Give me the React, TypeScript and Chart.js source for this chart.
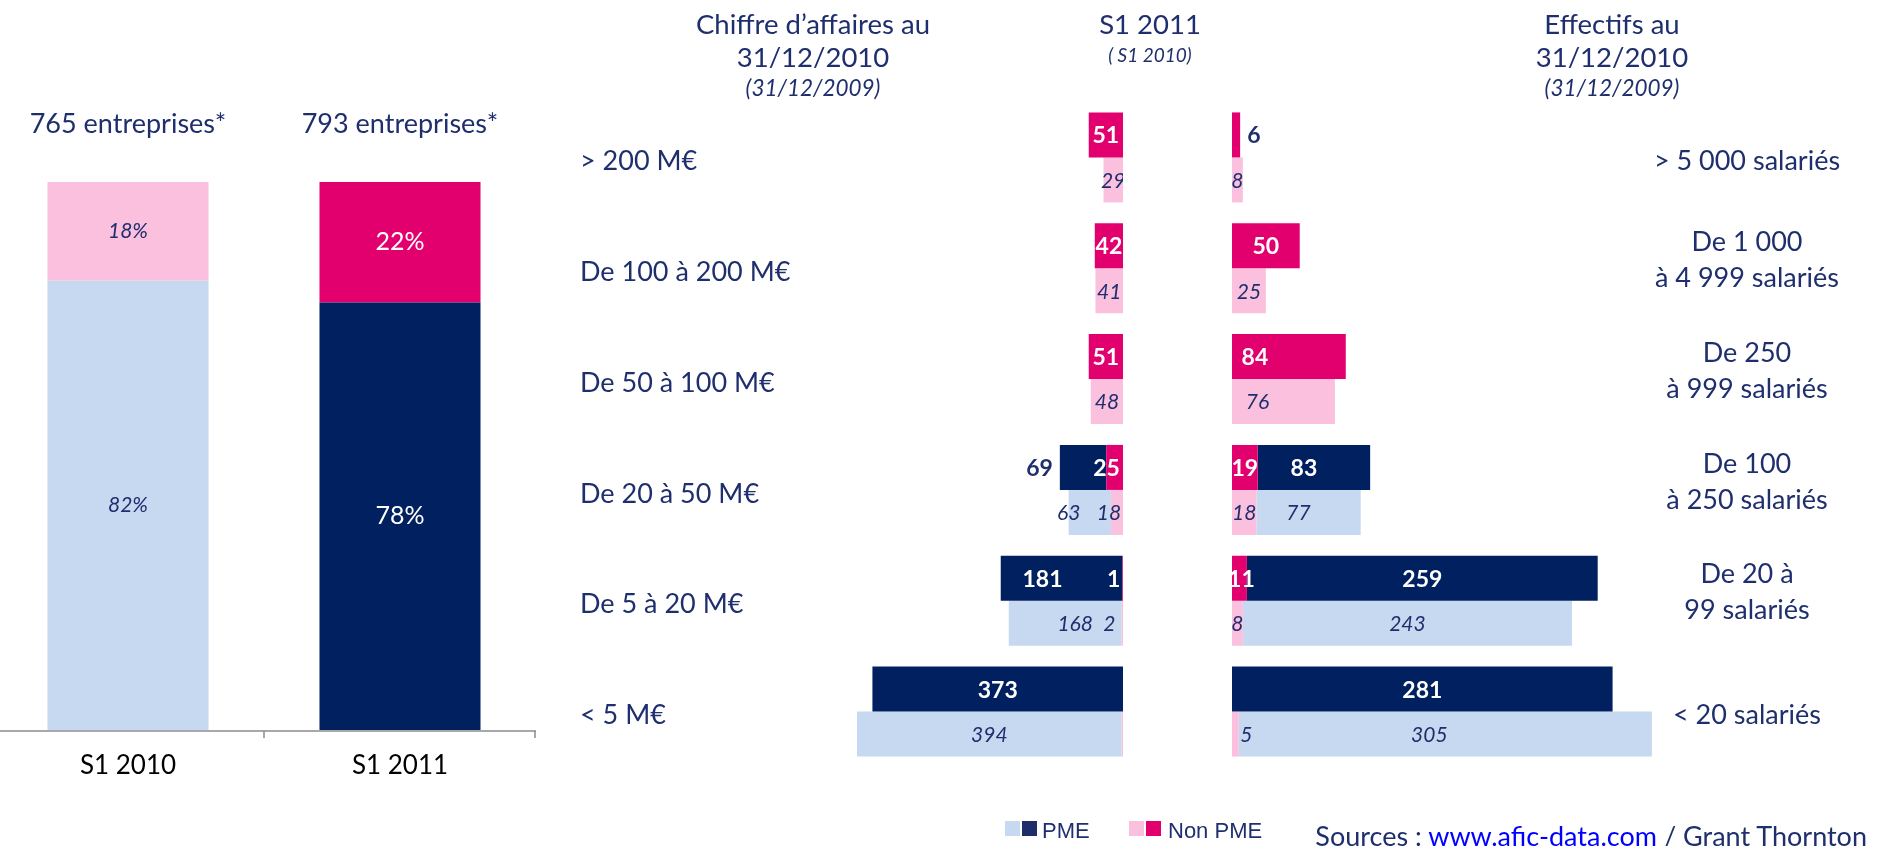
import React, { useEffect, useRef } from 'react';
import { Chart, registerables } from 'chart.js';

Chart.register(...registerables);

const TEXT = '#1F2F6E';
const DARK = '#002060';
const MAGENTA = '#E2006F';
const LIGHT_BLUE = '#C6D9F0';
const LIGHT_PINK = '#FBC0DE';
const FONT = 'Lato, "Open Sans", sans-serif';

// ---- Left chart: share of PME / Non PME ----
const periods = ['S1 2010', 'S1 2011'];
const companyCounts = [765, 793];
const pmeShare = [82, 78];
const nonPmeShare = [18, 22];

// ---- Middle-left: chiffre d'affaires ----
const caCategories = ['> 200 M€', 'De 100 à 200 M€', 'De 50 à 100 M€', 'De 20 à 50 M€', 'De 5 à 20 M€', '< 5 M€'];
const caNonPme2011 = [51, 42, 51, 25, 1, 0];
const caPme2011 = [0, 0, 0, 69, 181, 373];
const caNonPme2010 = [29, 41, 48, 18, 2, 2];
const caPme2010 = [0, 0, 0, 63, 168, 394];

// ---- Middle-right: effectifs ----
const effCategories = [
  ['> 5 000 salariés'],
  ['De 1 000', 'à 4 999 salariés'],
  ['De 250', 'à 999 salariés'],
  ['De 100', 'à 250 salariés'],
  ['De 20 à', '99 salariés'],
  ['< 20 salariés'],
];
const effNonPme2011 = [6, 50, 84, 19, 11, 0];
const effPme2011 = [0, 0, 0, 83, 259, 281];
const effNonPme2010 = [8, 25, 76, 18, 8, 5];
const effPme2010 = [0, 0, 0, 77, 243, 305];

// label placement tweaks (key: chart-datasetIndex-row)
const labelTweaks: Record<string, { dx?: number; outside?: boolean; hidden?: boolean }> = {
  'ca-0-3': { dx: -8 },
  'ca-0-4': { dx: -9 },
  'ca-1-3': { outside: true },
  'ca-1-4': { dx: -19 },
  'ca-2-3': { dx: -8 },
  'ca-2-4': { dx: -13 },
  'ca-2-5': { hidden: true },
  'ca-3-3': { dx: -21 },
  'ca-3-4': { dx: 10 },
  'eff-0-0': { outside: true },
  'eff-0-2': { dx: -34 },
  'eff-0-4': { dx: 2 },
  'eff-1-3': { dx: -10 },
  'eff-2-2': { dx: -26 },
  'eff-2-5': { dx: 11 },
  'eff-3-3': { dx: -10 },
  'eff-3-5': { dx: -16 },
};

function valueLabels(prefix: string, side: 'left' | 'right') {
  return {
    id: 'valueLabels',
    afterDatasetsDraw(chart: any) {
      const ctx = chart.ctx;
      ctx.save();
      ctx.textBaseline = 'middle';
      chart.data.datasets.forEach((ds: any, di: number) => {
        const meta = chart.getDatasetMeta(di);
        const is2011 = di < 2;
        meta.data.forEach((el: any, i: number) => {
          const v = ds.data[i] as number;
          if (!v) return;
          const tw = labelTweaks[`${prefix}-${di}-${i}`] || {};
          if (tw.hidden) return;
          const { x, base, y } = el.getProps(['x', 'base', 'y'], true);
          let tx = (x + base) / 2 + (tw.dx || 0);
          let align = 'center';
          let color = is2011 ? '#FFFFFF' : TEXT;
          if (tw.outside) {
            color = TEXT;
            if (side === 'left') {
              tx = Math.min(x, base) - 7;
              align = 'right';
            } else {
              tx = Math.max(x, base) + 7;
              align = 'left';
            }
          }
          ctx.font = is2011 ? `bold 23px ${FONT}` : `italic 21px ${FONT}`;
          ctx.fillStyle = color;
          ctx.textAlign = align;
          ctx.fillText(String(v), tx, y + 1);
        });
      });
      ctx.restore();
    },
  };
}

function categoryLabels(xPos: number, align: 'left' | 'center') {
  return {
    id: 'categoryLabels',
    afterDraw(chart: any) {
      const ctx = chart.ctx;
      const yScale = chart.scales.y;
      ctx.save();
      ctx.font = `27px ${FONT}`;
      ctx.fillStyle = TEXT;
      ctx.textAlign = align;
      ctx.textBaseline = 'middle';
      (chart.data.labels as any[]).forEach((lab, i) => {
        const cy = yScale.getPixelForValue(i);
        const lines = Array.isArray(lab) ? lab : [lab];
        if (lines.length === 1) {
          ctx.fillText(lines[0], xPos, cy + 4);
        } else {
          ctx.fillText(lines[0], xPos, cy - 26);
          ctx.fillText(lines[1], xPos, cy + 10);
        }
      });
      ctx.restore();
    },
  };
}

const shareDecor = {
  id: 'shareDecor',
  afterDatasetsDraw(chart: any) {
    const ctx = chart.ctx;
    const { left, right, top, bottom } = chart.chartArea;
    const xs = chart.scales.x;
    ctx.save();
    // axis line + tick marks between categories
    ctx.strokeStyle = '#8C8C8C';
    ctx.lineWidth = 1.5;
    ctx.beginPath();
    ctx.moveTo(left, bottom + 1);
    ctx.lineTo(right, bottom + 1);
    const n = periods.length;
    for (let k = 0; k <= n; k++) {
      let bx = left + ((right - left) * k) / n;
      if (k === n) bx -= 1;
      ctx.moveTo(bx, bottom + 1);
      ctx.lineTo(bx, bottom + 8);
    }
    ctx.stroke();
    ctx.textAlign = 'center';
    ctx.textBaseline = 'middle';
    periods.forEach((p, i) => {
      const cx = xs.getPixelForValue(i);
      ctx.font = `26px ${FONT}`;
      ctx.fillStyle = '#000000';
      ctx.fillText(p, cx, bottom + 36);
      ctx.font = `27px ${FONT}`;
      ctx.fillStyle = TEXT;
      ctx.fillText(`${companyCounts[i]} entreprises*`, cx, top - 58);
    });
    // segment labels
    chart.data.datasets.forEach((ds: any, di: number) => {
      const meta = chart.getDatasetMeta(di);
      meta.data.forEach((el: any, i: number) => {
        const { x, y, base } = el.getProps(['x', 'y', 'base'], true);
        const cy = (y + base) / 2;
        if (i === 0) {
          ctx.font = `italic 21px ${FONT}`;
          ctx.fillStyle = TEXT;
        } else {
          ctx.font = `25px ${FONT}`;
          ctx.fillStyle = '#FFFFFF';
        }
        ctx.fillText(`${ds.data[i]}%`, x, cy);
      });
    });
    ctx.restore();
  },
};

function Txt(props: { x: number; y: number; size: number; italic?: boolean; children: any }) {
  return (
    <div
      style={{
        position: 'absolute',
        left: props.x,
        top: props.y,
        transform: 'translate(-50%, -50%)',
        whiteSpace: 'nowrap',
        fontSize: props.size,
        lineHeight: 1.1,
        fontStyle: props.italic ? 'italic' : 'normal',
        color: TEXT,
        fontFamily: FONT,
      }}
    >
      {props.children}
    </div>
  );
}

export default function App() {
  const shareRef = useRef<HTMLCanvasElement>(null);
  const caRef = useRef<HTMLCanvasElement>(null);
  const effRef = useRef<HTMLCanvasElement>(null);

  useEffect(() => {
    const charts: Chart[] = [];
    charts.push(
      new Chart(shareRef.current!, {
        type: 'bar',
        data: {
          labels: periods,
          datasets: [
            { label: 'PME', data: pmeShare, backgroundColor: [LIGHT_BLUE, DARK] },
            { label: 'Non PME', data: nonPmeShare, backgroundColor: [LIGHT_PINK, MAGENTA] },
          ],
        },
        options: {
          animation: false,
          responsive: false,
          maintainAspectRatio: false,
          layout: { padding: { top: 182, bottom: 116, left: 0, right: 0 } },
          datasets: { bar: { categoryPercentage: 1, barPercentage: 0.592 } },
          scales: {
            x: { stacked: true, display: false },
            y: { stacked: true, display: false, min: 0, max: 100 },
          },
          plugins: { legend: { display: false }, tooltip: { enabled: false } },
        },
        plugins: [shareDecor],
      } as any)
    );

    const hbarOptions = (reverse: boolean, max: number, padding: any) => ({
      animation: false,
      responsive: false,
      maintainAspectRatio: false,
      indexAxis: 'y',
      layout: { padding },
      datasets: { bar: { categoryPercentage: 0.812, barPercentage: 1 } },
      scales: {
        x: { stacked: true, display: false, reverse, min: 0, max },
        y: { stacked: true, display: false },
      },
      plugins: { legend: { display: false }, tooltip: { enabled: false } },
    });

    charts.push(
      new Chart(caRef.current!, {
        type: 'bar',
        data: {
          labels: caCategories,
          datasets: [
            { label: 'Non PME S1 2011', data: caNonPme2011, backgroundColor: MAGENTA, stack: 's2011' },
            { label: 'PME S1 2011', data: caPme2011, backgroundColor: DARK, stack: 's2011' },
            { label: 'Non PME S1 2010', data: caNonPme2010, backgroundColor: LIGHT_PINK, stack: 's2010' },
            { label: 'PME S1 2010', data: caPme2010, backgroundColor: LIGHT_BLUE, stack: 's2010' },
          ],
        },
        options: hbarOptions(true, 585, { left: 170, right: 0, top: 102, bottom: 79 }),
        plugins: [valueLabels('ca', 'left'), categoryLabels(20, 'left')],
      } as any)
    );

    charts.push(
      new Chart(effRef.current!, {
        type: 'bar',
        data: {
          labels: effCategories,
          datasets: [
            { label: 'Non PME S1 2011', data: effNonPme2011, backgroundColor: MAGENTA, stack: 's2011' },
            { label: 'PME S1 2011', data: effPme2011, backgroundColor: DARK, stack: 's2011' },
            { label: 'Non PME S1 2010', data: effNonPme2010, backgroundColor: LIGHT_PINK, stack: 's2010' },
            { label: 'PME S1 2010', data: effPme2010, backgroundColor: LIGHT_BLUE, stack: 's2010' },
          ],
        },
        options: hbarOptions(false, 316, { left: 0, right: 220, top: 102, bottom: 79 }),
        plugins: [valueLabels('eff', 'right'), categoryLabels(515, 'center')],
      } as any)
    );

    if ((document as any).fonts && (document as any).fonts.ready) {
      (document as any).fonts.ready.then(() => charts.forEach((c) => c.draw()));
    }
    return () => charts.forEach((c) => c.destroy());
  }, []);

  const sq = (left: number, color: string) => (
    <div style={{ position: 'absolute', left, top: 821, width: 15, height: 15, background: color }} />
  );

  const legendText: any = {
    position: 'absolute',
    top: 831,
    transform: 'translateY(-50%)',
    fontFamily: '"Liberation Sans", Arial, sans-serif',
    fontSize: 22,
    lineHeight: 1,
    color: TEXT,
    whiteSpace: 'nowrap',
  };

  return (
    <div
      style={{
        position: 'absolute',
        left: 0,
        top: 0,
        width: 1880,
        height: 846,
        overflow: 'hidden',
        background: '#FFFFFF',
        fontFamily: FONT,
      }}
    >
      <canvas ref={shareRef} width={544} height={846} style={{ position: 'absolute', left: -8, top: 0 }} />
      <canvas ref={caRef} width={563} height={846} style={{ position: 'absolute', left: 560, top: 0 }} />
      <canvas ref={effRef} width={648} height={846} style={{ position: 'absolute', left: 1232, top: 0 }} />

      <Txt x={813} y={24} size={27.5}>Chiffre d’affaires au</Txt>
      <Txt x={813} y={57} size={27.5}>31/12/2010</Txt>
      <Txt x={813} y={88} size={22.5} italic>(31/12/2009)</Txt>
      <Txt x={1150} y={24} size={27.5}>S1 2011</Txt>
      <Txt x={1150} y={55} size={19} italic>( S1 2010)</Txt>
      <Txt x={1612} y={24} size={27.5}>Effectifs au</Txt>
      <Txt x={1612} y={57} size={27.5}>31/12/2010</Txt>
      <Txt x={1612} y={88} size={22.5} italic>(31/12/2009)</Txt>

      {sq(1005, LIGHT_BLUE)}
      {sq(1022, '#1F2D6B')}
      <div style={{ ...legendText, left: 1042 }}>PME</div>
      {sq(1129, LIGHT_PINK)}
      {sq(1146, MAGENTA)}
      <div style={{ ...legendText, left: 1168 }}>Non PME</div>

      <div
        style={{
          position: 'absolute',
          right: 13,
          top: 836,
          transform: 'translateY(-50%)',
          whiteSpace: 'nowrap',
          fontSize: 27,
          lineHeight: 1.1,
          color: TEXT,
          fontFamily: FONT,
        }}
      >
        Sources : <span style={{ color: '#0000FF', textDecoration: 'underline' }}>www.afic-data.com</span> / Grant Thornton
      </div>
    </div>
  );
}
